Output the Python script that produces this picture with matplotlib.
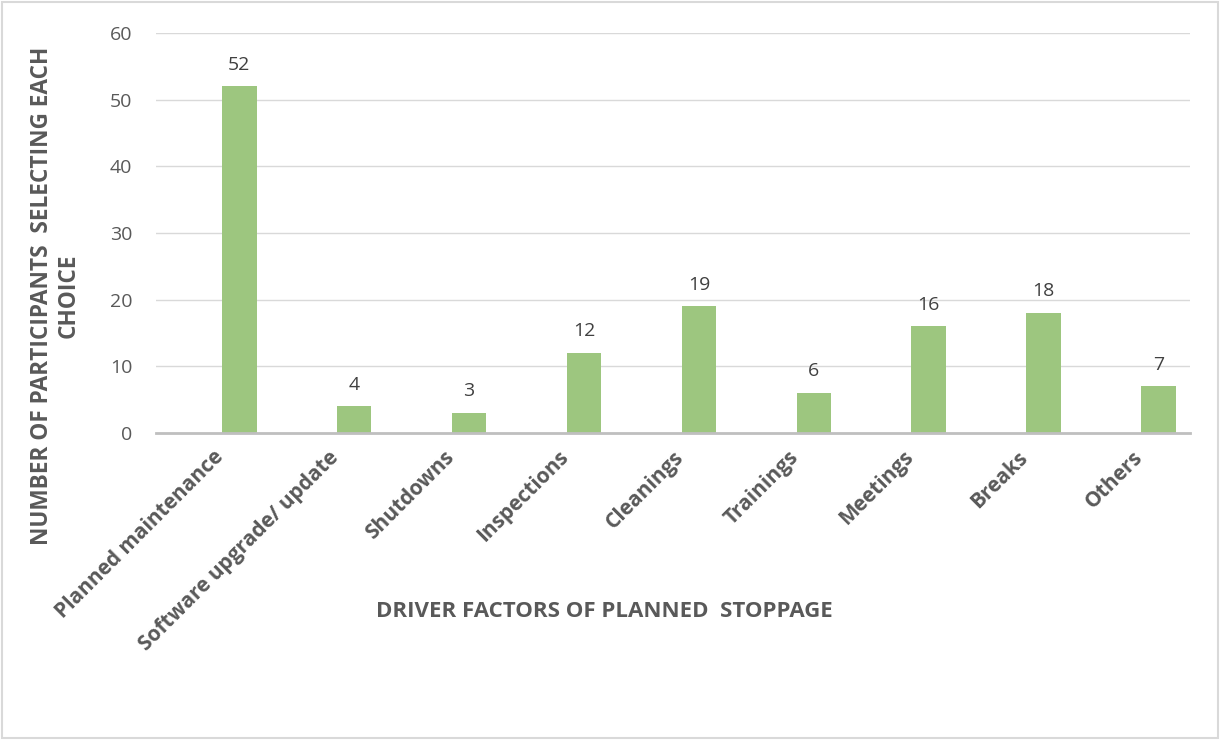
import matplotlib.pyplot as plt
from matplotlib.patches import Rectangle

# survey counts per driver of planned stoppage
categories = ["Planned maintenance", "Software upgrade/ update", "Shutdowns",
              "Inspections", "Cleanings", "Trainings", "Meetings", "Breaks",
              "Others"]
counts = [52, 4, 3, 12, 19, 6, 16, 18, 7]
y_ticks = [0, 10, 20, 30, 40, 50, 60]

plt.rcParams['font.family'] = ['Open Sans', 'DejaVu Sans']

fig = plt.figure(figsize=(12.2, 7.4), dpi=100)
ax = fig.add_axes([0.1279, 0.4149, 0.8475, 0.5405])

x = list(range(len(categories)))
# bars sit right of the category centre (Excel's clustered layout)
bar_x = [xi + 0.225 for xi in x]
ax.bar(bar_x, counts, width=0.3, color='#9DC67F', zorder=3)

for bx, v in zip(bar_x, counts):
    ax.annotate(str(v), (bx, v), xytext=(0, 9), textcoords='offset points',
                ha='center', va='bottom', fontsize=14, color='#404040')

ax.set_xlim(-0.5, len(categories) - 0.5)
ax.set_ylim(0, 60)
ax.set_yticks(y_ticks)
ax.yaxis.grid(True, color='#D9D9D9', lw=1, zorder=0)
ax.set_axisbelow(True)

for s in ['top', 'right', 'left']:
    ax.spines[s].set_visible(False)
ax.spines['bottom'].set_color('#BFBFBF')
ax.spines['bottom'].set_linewidth(2)
ax.spines['bottom'].set_zorder(4)

ax.tick_params(axis='both', length=0)
ax.tick_params(axis='y', pad=17, labelsize=14, labelcolor='#595959')
ax.set_xticks(x)
ax.set_xticklabels(categories, rotation=45, ha='right', rotation_mode='anchor',
                   fontsize=15, fontweight='bold', color='#595959')
ax.tick_params(axis='x', pad=10)

fig.text(0.495, 0.174, "DRIVER FACTORS OF PLANNED  STOPPAGE", ha='center',
         va='center', fontsize=16, fontweight='bold', color='#595959')
fig.text(0.045, 0.60, "NUMBER OF PARTICIPANTS  SELECTING EACH\nCHOICE",
         ha='center', va='center', rotation=90, fontsize=16.3,
         fontweight='bold', color='#595959', linespacing=1.15,
         multialignment='center')

# light frame around the whole chart area
fig.patches.append(Rectangle((0.002, 0.003), 0.996, 0.994, transform=fig.transFigure,
                             fill=False, edgecolor='#D9D9D9', lw=1.5))

fig.savefig('out.png', dpi=100, facecolor='white')
